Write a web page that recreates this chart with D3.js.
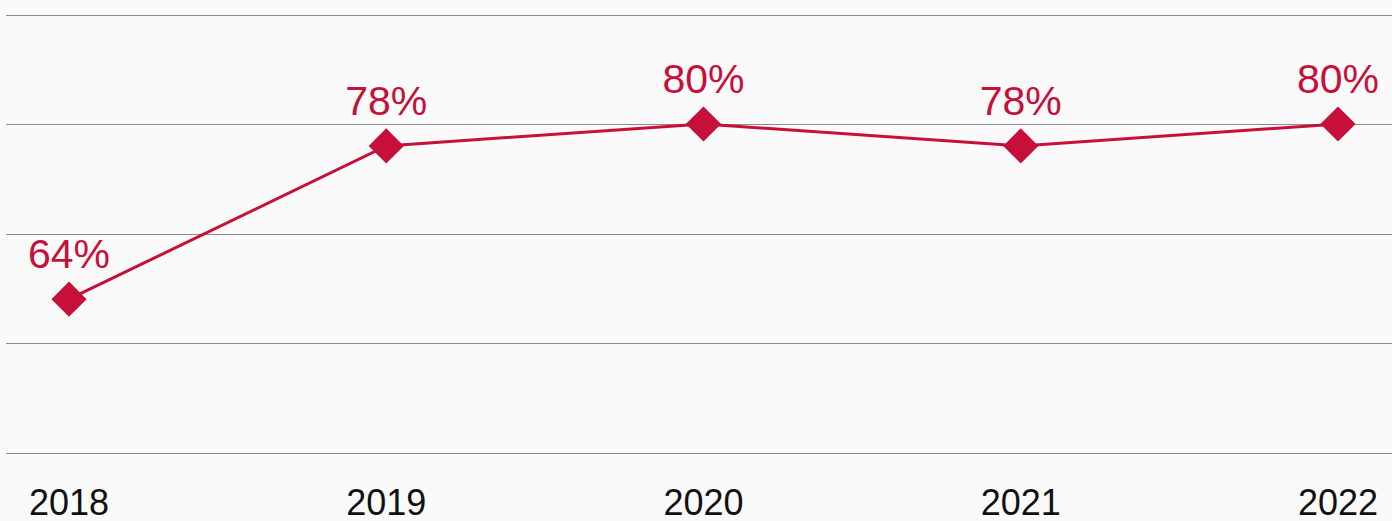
<!DOCTYPE html>
<html>
<head>
<meta charset="utf-8">
<script src="https://cdn.jsdelivr.net/npm/d3@7"></script>
<style>
  html, body { margin: 0; padding: 0; background: #fafafa; }
  svg { display: block; font-family: "Liberation Sans", Arial, sans-serif; }
</style>
</head>
<body>
<svg id="chart" width="1392" height="521"></svg>
<script>
// chart data
const years = ["2018", "2019", "2020", "2021", "2022"];
const shares = [64, 78, 80, 78, 80];
const gridValues = [50, 60, 70, 80, 90];

const width = 1392, height = 521;
const red = "#c6103a";

const svg = d3.select("#chart");

const x = d3.scalePoint()
    .domain(years)
    .range([69, 1338]);

const y = d3.scaleLinear()
    .domain([50, 90])
    .range([452.5, 14.5]);

// horizontal gridlines
svg.append("g")
    .selectAll("line")
    .data(gridValues)
    .join("line")
    .attr("x1", 6)
    .attr("x2", width)
    .attr("y1", d => Math.round(y(d)) + 0.5)
    .attr("y2", d => Math.round(y(d)) + 0.5)
    .attr("stroke", "#8c8c8c")
    .attr("stroke-width", 1.2);

// year labels along the bottom (sit on the lower edge, as in the original)
svg.append("g")
    .selectAll("text")
    .data(years)
    .join("text")
    .attr("x", d => x(d))
    .attr("y", 515)
    .attr("text-anchor", "middle")
    .attr("font-size", 36)
    .attr("fill", "#111")
    .text(d => d);

const points = years.map((yr, i) => ({ year: yr, value: shares[i] }));

const line = d3.line()
    .x(d => x(d.year))
    .y(d => y(d.value));

svg.append("path")
    .datum(points)
    .attr("d", line)
    .attr("fill", "none")
    .attr("stroke", red)
    .attr("stroke-width", 3);

// diamond markers
svg.append("g")
    .selectAll("path")
    .data(points)
    .join("path")
    .attr("d", d3.symbol(d3.symbolSquare, 620))
    .attr("transform", d => `translate(${x(d.year)},${y(d.value)}) rotate(45)`)
    .attr("fill", red);

// value labels
svg.append("g")
    .selectAll("text")
    .data(points)
    .join("text")
    .attr("x", d => x(d.year))
    .attr("y", d => y(d.value) - 31)
    .attr("text-anchor", "middle")
    .attr("font-size", 41)
    .attr("fill", red)
    .text(d => d.value + "%");
</script>
</body>
</html>
